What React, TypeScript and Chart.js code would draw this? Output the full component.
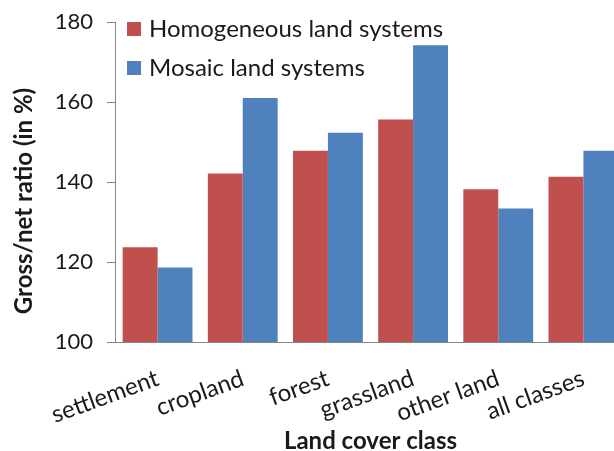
import React, { useEffect, useRef } from "react";
import { Chart, registerables } from "chart.js";

Chart.register(...registerables);

const categories = ["settlement", "cropland", "forest", "grassland", "other land", "all classes"];
const homogeneous = [123.7, 142.1, 147.8, 155.6, 138.2, 141.3];
const mosaic = [118.6, 161.0, 152.3, 174.2, 133.4, 147.8];
const seriesLabels = ["Homogeneous land systems", "Mosaic land systems"];
const seriesColors = ["#C0504D", "#4F81BD"];
const yTicks = [100, 120, 140, 160, 180];
const yTitle = "Gross/net ratio (in %)";
const xTitle = "Land cover class";

const FONT = "Lato, 'Noto Sans', sans-serif";
const TEXT = "#1a1a1a";
const AXIS = "#868686";

const insideLegend = {
  id: "insideLegend",
  afterDraw(chart: any) {
    const { ctx, chartArea } = chart;
    ctx.save();
    ctx.font = `24px ${FONT}`;
    ctx.textBaseline = "middle";
    ctx.textAlign = "left";
    chart.data.datasets.forEach((ds: any, i: number) => {
      const cy = chartArea.top + 7 + i * 39;
      ctx.fillStyle = ds.backgroundColor;
      ctx.fillRect(chartArea.left + 12, cy - 7, 14, 14);
      ctx.fillStyle = TEXT;
      ctx.fillText(ds.label, chartArea.left + 34, cy);
    });
    ctx.restore();
  },
};

const yTitlePlugin = {
  id: "yTitlePlugin",
  afterDraw(chart: any) {
    const { ctx, chartArea } = chart;
    ctx.save();
    ctx.font = `bold 24px ${FONT}`;
    ctx.fillStyle = TEXT;
    ctx.textAlign = "center";
    ctx.textBaseline = "middle";
    ctx.translate(24, (chartArea.top + chartArea.bottom) / 2 + 19);
    ctx.rotate(-Math.PI / 2);
    ctx.fillText(yTitle, 0, 0);
    ctx.restore();
  },
};

export default function App() {
  const ref = useRef<HTMLCanvasElement | null>(null);

  useEffect(() => {
    if (!ref.current) return;
    const chart = new Chart(ref.current, {
      type: "bar",
      data: {
        labels: categories,
        datasets: [
          { label: seriesLabels[0], data: homogeneous, backgroundColor: seriesColors[0] },
          { label: seriesLabels[1], data: mosaic, backgroundColor: seriesColors[1] },
        ],
      },
      options: {
        responsive: false,
        animation: false,
        layout: { padding: { top: 22, right: 2, left: 0, bottom: 0 } },
        datasets: { bar: { categoryPercentage: 0.82, barPercentage: 1.0 } },
        plugins: {
          legend: { display: false },
          tooltip: { enabled: false },
          title: { display: false },
        },
        scales: {
          x: {
            grid: { display: false },
            border: { display: true, color: AXIS, width: 1 },
            ticks: {
              autoSkip: false,
              minRotation: 20,
              maxRotation: 20,
              padding: 14,
              color: TEXT,
              font: { family: FONT, size: 24 },
            },
            title: {
              display: true,
              text: xTitle,
              color: TEXT,
              font: { family: FONT, size: 24, weight: "bold" },
              padding: { top: 0, bottom: 0 },
            },
            afterFit: (s: any) => {
              s.height = 114;
            },
          },
          y: {
            min: 100,
            max: 180,
            afterBuildTicks: (s: any) => {
              s.ticks = yTicks.map((v) => ({ value: v }));
            },
            grid: {
              display: true,
              drawOnChartArea: false,
              drawTicks: true,
              tickLength: 8,
              color: AXIS,
            },
            border: { display: true, color: AXIS, width: 1 },
            ticks: {
              padding: 14,
              color: TEXT,
              font: { family: FONT, size: 22 },
            },
            afterFit: (s: any) => {
              s.width = 115;
              s.paddingTop = 0;
              s.paddingBottom = 0;
            },
          },
        },
      },
      plugins: [insideLegend, yTitlePlugin],
    });
    return () => chart.destroy();
  }, []);

  return (
    <div
      style={{
        position: "absolute",
        left: 0,
        top: 0,
        width: 614,
        height: 451,
        overflow: "hidden",
        background: "#fff",
      }}
    >
      <canvas ref={ref} width={628} height={456} style={{ width: 628, height: 456, display: "block" }} />
    </div>
  );
}
